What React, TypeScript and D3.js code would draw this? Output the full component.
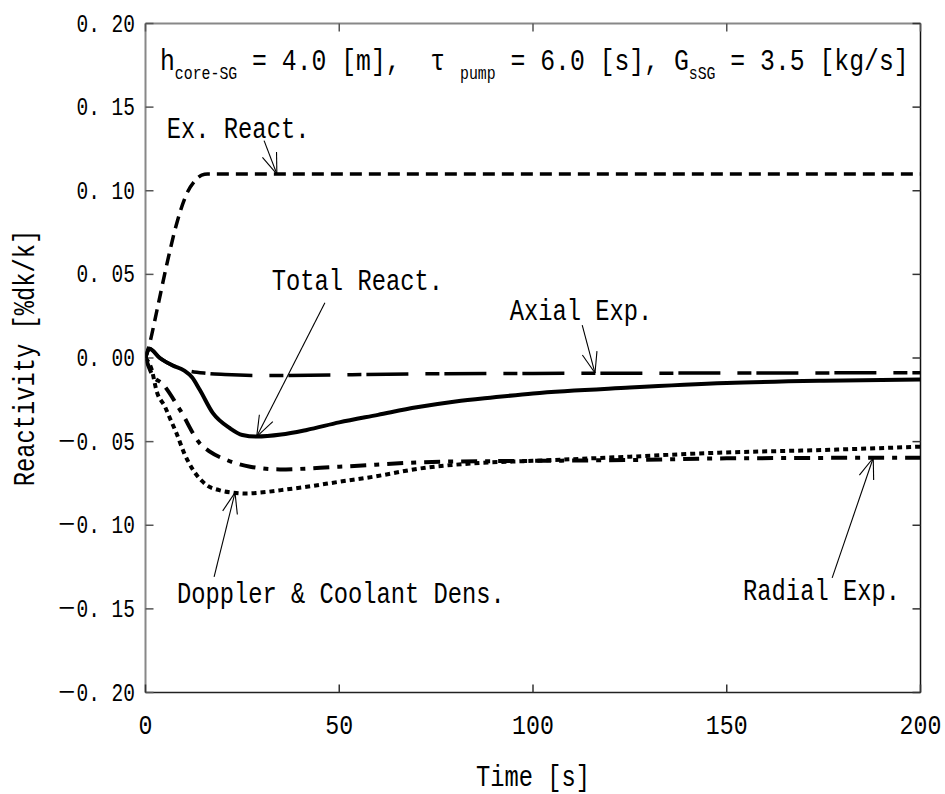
import React, { useRef, useEffect } from 'react';
import * as d3 from 'd3';

// axes
const timeTicks = [0, 50, 100, 150, 200];
const reactTicks = [-0.2, -0.15, -0.1, -0.05, 0, 0.05, 0.1, 0.15, 0.2];

// Ex. React. (dashed)
const exTime = [0, 1, 3, 5.5, 8, 10.6, 12.8, 14.5, 16, 200];
const exReact = [0, 0.008, 0.029, 0.056, 0.08, 0.098, 0.106, 0.1093, 0.11, 0.11];

// Axial Exp. (long dash)
const axTime = [0, 1, 3.7, 9.8, 15.8, 20.5, 30, 70, 100, 150, 200];
const axReact = [0, 0.0055, 0, -0.0068, -0.0092, -0.0099, -0.0105, -0.0095, -0.0092, -0.009, -0.0088];

// Total React. (solid)
const totTime = [0, 1, 3.7, 7, 10, 12, 14, 17.4, 21.8, 25, 28.7, 35, 41.6, 50, 60, 70, 80, 90, 100, 125, 150, 175, 200];
const totReact = [0, 0.0055, 0, -0.0045, -0.0075, -0.0115, -0.019, -0.033, -0.042, -0.046, -0.047, -0.0458, -0.043, -0.0385, -0.034, -0.0295, -0.026, -0.0235, -0.0212, -0.0177, -0.015, -0.0136, -0.0128];

// Doppler & Coolant Dens. (dotted)
const dopTime = [0, 1.6, 2.9, 5, 6.3, 8, 10, 12.3, 15.8, 19, 22.7, 26, 29.5, 35, 41.6, 50, 58.8, 71, 84.6, 100, 125, 148, 175, 200];
const dopReact = [0, -0.007, -0.02, -0.029, -0.036, -0.045, -0.057, -0.067, -0.076, -0.079, -0.0805, -0.081, -0.0805, -0.079, -0.077, -0.074, -0.071, -0.066, -0.063, -0.0615, -0.059, -0.0566, -0.055, -0.053];

// Radial Exp. (dash-dot)
const radTime = [0, 2, 4.2, 8.9, 14, 16.6, 21, 27, 34.7, 50, 76, 100, 125, 150, 200];
const radReact = [0, -0.011, -0.015, -0.031, -0.051, -0.056, -0.061, -0.065, -0.0666, -0.065, -0.062, -0.0615, -0.061, -0.06, -0.0596];

// annotations: label position, arrow tail, arrow tip (data coords)
const noteText = ['Ex. React.', 'Total React.', 'Axial Exp.', 'Doppler & Coolant Dens.', 'Radial Exp.'];
const noteAt = [[5.5, 0.1315], [32.6, 0.0407], [94, 0.0227], [8.1, -0.1465], [194.7, -0.1447]];
const noteAnchor = ['start', 'start', 'start', 'start', 'end'];
const tailAt = [[30.6, 0.13], [46.3, 0.0331], [112.7, 0.0197], [17.7, -0.1308], [177.2, -0.1315]];
const tipAt = [[33.9, 0.11], [28.7, -0.047], [116, -0.009], [23.1, -0.0805], [187.8, -0.0598]];

const FONT = "'Liberation Mono', 'DejaVu Sans Mono', 'Noto Sans CJK JP', monospace";

const ReactivityChart = () => {
  const ref = useRef<SVGSVGElement>(null);

  useEffect(() => {
    const svg = d3.select(ref.current);
    svg.selectAll('*').remove();

    const left = 145.5, right = 920.5, top = 23.5, bottom = 692.5;

    const x = d3.scaleLinear().domain([0, 200]).range([left, right]);
    const y = d3.scaleLinear().domain([-0.2, 0.2]).range([bottom, top]);

    const txt = (px: number, py: number, s: string, size: number, sx: number, anchor = 'start', rot = 0) =>
      svg.append('text')
        .attr('transform', `translate(${px},${py}) rotate(${rot}) scale(${sx},1)`)
        .attr('font-family', FONT)
        .attr('font-size', size)
        .attr('text-anchor', anchor)
        .attr('fill', '#000')
        .style('white-space', 'pre')
        .text(s);

    // frame
    svg.append('line').attr('x1', left).attr('x2', left).attr('y1', top).attr('y2', bottom)
      .attr('stroke', '#888').attr('stroke-width', 2);
    svg.append('line').attr('x1', left).attr('x2', right).attr('y1', top).attr('y2', top)
      .attr('stroke', '#888').attr('stroke-width', 2);
    svg.append('line').attr('x1', left).attr('x2', right).attr('y1', bottom).attr('y2', bottom)
      .attr('stroke', '#222').attr('stroke-width', 1.5);
    svg.append('line').attr('x1', right).attr('x2', right).attr('y1', top).attr('y2', bottom)
      .attr('stroke', '#111').attr('stroke-width', 1.5);

    // ticks (inward)
    reactTicks.forEach(v => {
      svg.append('line').attr('x1', left).attr('x2', left + 8).attr('y1', y(v)).attr('y2', y(v))
        .attr('stroke', '#555').attr('stroke-width', 1.5);
      svg.append('line').attr('x1', right).attr('x2', right - 8).attr('y1', y(v)).attr('y2', y(v))
        .attr('stroke', '#333').attr('stroke-width', 1.5);
      const lab = (v < 0 ? '－' : '') + Math.abs(v).toFixed(2).replace('.', '. ');
      txt(135, y(v) + 8, lab, 25, 0.78, 'end');
    });
    timeTicks.forEach(t => {
      svg.append('line').attr('x1', x(t)).attr('x2', x(t)).attr('y1', top).attr('y2', top + 8)
        .attr('stroke', '#555').attr('stroke-width', 1.5);
      svg.append('line').attr('x1', x(t)).attr('x2', x(t)).attr('y1', bottom).attr('y2', bottom - 8)
        .attr('stroke', '#333').attr('stroke-width', 1.5);
      txt(x(t), 734, String(t), 27, 0.86, 'middle');
    });

    // axis titles
    txt(533, 786, 'Time [s]', 29, 0.82, 'middle');
    txt(34, 358, 'Reactivity [%dk/k]', 29, 0.82, 'middle', -90);

    // header
    const head = svg.append('text')
      .attr('transform', `translate(160,70) scale(0.825,1)`)
      .attr('font-family', FONT)
      .attr('font-size', 30)
      .attr('fill', '#000')
      .style('white-space', 'pre');
    const parts: [string, boolean][] = [
      ['h', false], ['core-SG', true], [' = 4.0 [m],  τ ', false], ['pump', true],
      [' = 6.0 [s], G', false], ['sSG', true], [' = 3.5 [kg/s]', false]
    ];
    let down = false;
    parts.forEach(([s, sub]) => {
      const tsp = head.append('tspan').text(s);
      if (sub) { tsp.attr('font-size', 18).attr('dy', down ? 0 : 9); down = true; }
      else { tsp.attr('dy', down ? -9 : 0); down = false; }
    });

    // curves
    const clip = svg.append('clipPath').attr('id', 'plotClip');
    clip.append('rect').attr('x', left).attr('y', top).attr('width', right - left).attr('height', bottom - top);

    const line = d3.line<[number, number]>()
      .x(d => x(d[0]))
      .y(d => y(d[1]))
      .curve(d3.curveMonotoneX);

    const series: [number[], number[], string, number][] = [
      [exTime, exReact, '12,7', 3.5],
      [axTime, axReact, '42,17,14,5', 3.5],
      [totTime, totReact, '', 4],
      [dopTime, dopReact, '5,4', 4],
      [radTime, radReact, '16,8,5,8', 4]
    ];
    const g = svg.append('g').attr('clip-path', 'url(#plotClip)');
    series.forEach(([ts, vs, dash, w]) => {
      g.append('path')
        .datum(ts.map((t, i) => [t, vs[i]] as [number, number]))
        .attr('d', line)
        .attr('fill', 'none')
        .attr('stroke', '#000')
        .attr('stroke-width', w)
        .attr('stroke-dasharray', dash || null);
    });

    // annotations
    noteText.forEach((s, i) => {
      txt(x(noteAt[i][0]), y(noteAt[i][1]), s, 29, 0.82, noteAnchor[i]);
      const x0 = x(tailAt[i][0]), y0 = y(tailAt[i][1]);
      const x1 = x(tipAt[i][0]), y1 = y(tipAt[i][1]);
      svg.append('line').attr('x1', x0).attr('y1', y0).attr('x2', x1).attr('y2', y1)
        .attr('stroke', '#000').attr('stroke-width', 1.1);
      const ang = Math.atan2(y0 - y1, x0 - x1);
      [-0.35, 0.35].forEach(da => {
        svg.append('line')
          .attr('x1', x1).attr('y1', y1)
          .attr('x2', x1 + 22 * Math.cos(ang + da)).attr('y2', y1 + 22 * Math.sin(ang + da))
          .attr('stroke', '#000').attr('stroke-width', 1.1);
      });
    });
  }, []);

  return <svg ref={ref} width="945" height="794" style={{ position: 'absolute', left: 0, top: 0, background: '#fff' }}></svg>;
};

export default function App() {
  return <ReactivityChart />;
}
